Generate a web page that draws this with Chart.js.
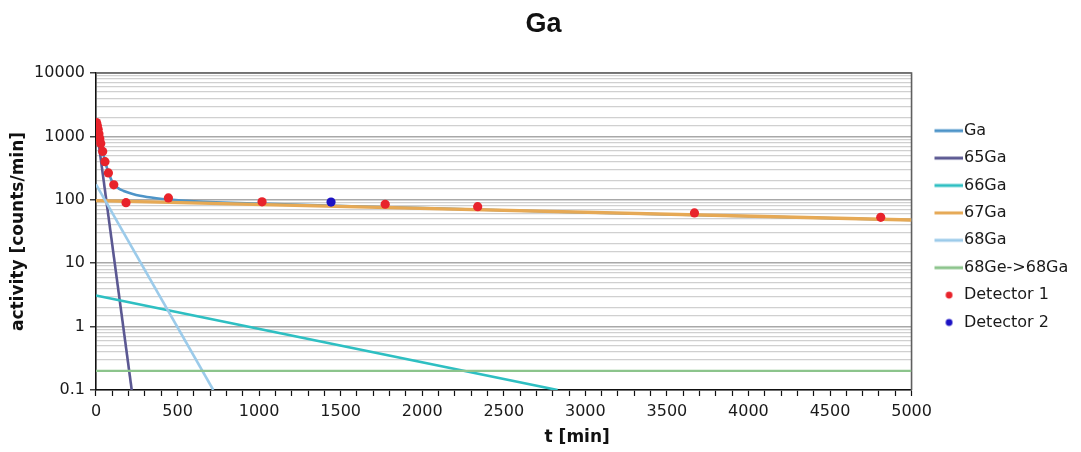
<!DOCTYPE html>
<html>
<head>
<meta charset="utf-8">
<title>Ga</title>
<script src="https://cdn.jsdelivr.net/npm/chart.js@4.4.1/dist/chart.umd.min.js"></script>
<style>
html,body{margin:0;padding:0;background:#fff;}
#wrap{width:1081px;height:452px;}
</style>
</head>
<body>
<div id="wrap"><canvas id="gaChart"></canvas></div>
<script>
// ===========================
// DATA
// ===========================

const seriesNames = ["Ga", "65Ga", "66Ga", "67Ga", "68Ga", "68Ge->68Ga", "Detector 1", "Detector 2"];
const seriesColors = ["#4d94c8", "#5b5892", "#2ebfc2", "#e6a955", "#9ccbea", "#8cc48c", "#e8232b", "#1c12c4"];

// total Ga curve, t [min] / activity
const gaT   = [0, 8, 18, 29, 41, 55, 76, 109, 140, 170, 220, 270, 370, 450, 600, 1000, 2000, 3000, 4000, 5000];
const gaVal = [1900, 1500, 1100, 780, 580, 410, 270, 175, 150, 138, 125, 116, 106, 101, 95, 87, 74, 63, 55, 48];

// single isotopes (straight lines on the log axis)
const ga65T = [0, 219];
const ga65Val = [1600, 0.1];
const ga66T = [0, 2830];
const ga66Val = [3.1, 0.1];
const ga67T = [0, 5000];
const ga67Val = [97, 48];
const ga68T = [0, 719];
const ga68Val = [175, 0.1];
const ge68T = [0, 5000];
const ge68Val = [0.2, 0.2];

// measured points
const det1T   = [3, 8, 13, 18, 23, 29, 41, 55, 76, 109, 184, 444, 1018, 1773, 2340, 3669, 4811];
const det1Val = [1650, 1480, 1300, 1100, 930, 770, 580, 400, 265, 172, 90, 107, 93, 85, 78, 62, 53];
const det2T   = [1441];
const det2Val = [92];

// tick labels
const xTickLabels = [0, 500, 1000, 1500, 2000, 2500, 3000, 3500, 4000, 4500, 5000];
const yTickLabels = [0.1, 1, 10, 100, 1000, 10000];

// ===========================
// HELPERS
// ===========================

const pts = (t, v) => t.map((x, i) => ({x: x, y: v[i]}));

const isDecade = v => yTickLabels.some(d => Math.abs(d - v) < d * 1e-6);

function legendSwatch(color, isDot){
    const c = document.createElement("canvas");
    c.width = 48;
    c.height = 10;
    const g = c.getContext("2d");
    if(isDot){
        g.fillStyle = color;
        g.beginPath();
        g.arc(33.6, 5, 3.4, 0, Math.PI * 2);
        g.fill();
    } else {
        g.strokeStyle = color;
        g.lineWidth = 3;
        g.beginPath();
        g.moveTo(19, 5);
        g.lineTo(48, 5);
        g.stroke();
    }
    return c;
}

const swatches = seriesColors.map((c, i) => legendSwatch(c, i >= 6));

function lineSet(i, data, width, extra){
    return Object.assign({
        label: seriesNames[i],
        data: data,
        showLine: true,
        borderColor: seriesColors[i],
        backgroundColor: seriesColors[i],
        borderWidth: width,
        pointRadius: 0,
        tension: 0,
        order: 7 - i
    }, extra || {});
}

function dotSet(i, data){
    return {
        label: seriesNames[i],
        data: data,
        showLine: false,
        borderColor: seriesColors[i],
        backgroundColor: seriesColors[i],
        pointRadius: 4.6,
        pointBorderWidth: 0,
        order: 7 - i
    };
}

// ===========================
// PLUGINS
// ===========================

// dark frame on top and right of the plot area
const plotFrame = {
    id: "plotFrame",
    beforeDatasetsDraw(chart){
        const {ctx, chartArea: a} = chart;
        ctx.save();
        ctx.strokeStyle = "#5f5f5f";
        ctx.lineWidth = 1.6;
        ctx.beginPath();
        ctx.moveTo(a.left, a.top);
        ctx.lineTo(a.right, a.top);
        ctx.lineTo(a.right, a.bottom);
        ctx.stroke();
        ctx.restore();
    }
};

// x axis title sits right of centre in the original
const xTitle = {
    id: "xTitle",
    afterDraw(chart){
        const {ctx, chartArea: a} = chart;
        ctx.save();
        ctx.font = "bold 17px 'DejaVu Sans'";
        ctx.fillStyle = "#111";
        ctx.textAlign = "center";
        ctx.textBaseline = "middle";
        ctx.fillText("t [min]", a.left + (a.right - a.left) * 0.59, a.bottom + 48);
        ctx.restore();
    }
};

// ===========================
// CHART
// ===========================

const tickFont = {family: "'DejaVu Sans'", size: 16};

new Chart(document.getElementById("gaChart"), {
    type: "scatter",
    data: {
        datasets: [
            lineSet(0, pts(gaT, gaVal), 2.6, {cubicInterpolationMode: "monotone"}),
            lineSet(1, pts(ga65T, ga65Val), 2.6),
            lineSet(2, pts(ga66T, ga66Val), 2.6),
            lineSet(3, pts(ga67T, ga67Val), 3.4),
            lineSet(4, pts(ga68T, ga68Val), 2.6),
            lineSet(5, pts(ge68T, ge68Val), 2.2),
            dotSet(6, pts(det1T, det1Val)),
            dotSet(7, pts(det2T, det2Val))
        ]
    },
    options: {
        responsive: true,
        maintainAspectRatio: false,
        animation: false,
        layout: {
            padding: {left: 8.7, right: 2.7, top: 0, bottom: 24.8}
        },
        scales: {
            x: {
                type: "linear",
                min: 0,
                max: 5000,
                ticks: {
                    stepSize: 100,
                    autoSkip: false,
                    maxRotation: 0,
                    padding: 6,
                    font: tickFont,
                    color: "#1a1a1a",
                    callback: v => xTickLabels.includes(v) ? String(v) : ""
                },
                grid: {
                    drawOnChartArea: false,
                    drawTicks: true,
                    tickLength: 6,
                    tickColor: "#111",
                    tickWidth: 1.2
                },
                border: {color: "#111", width: 1.6}
            },
            y: {
                type: "logarithmic",
                min: 0.1,
                max: 10000,
                ticks: {
                    autoSkip: false,
                    padding: 5,
                    font: tickFont,
                    color: "#1a1a1a",
                    callback: v => isDecade(v) ? (v >= 1 ? String(Math.round(v)) : v.toFixed(1)) : ""
                },
                grid: {
                    color: c => isDecade(c.tick.value) ? "#a8a8a8" : "#d0d0d0",
                    lineWidth: c => isDecade(c.tick.value) ? 1.6 : 1.3,
                    tickColor: c => isDecade(c.tick.value) ? "#111" : "rgba(0,0,0,0)",
                    tickLength: 6,
                    tickWidth: 1.2
                },
                border: {color: "#111", width: 1.6},
                title: {
                    display: true,
                    text: "activity [counts/min]",
                    color: "#111",
                    font: {family: "'DejaVu Sans'", size: 17, weight: "bold"},
                    padding: {top: 0, bottom: 0}
                }
            }
        },
        plugins: {
            title: {
                display: true,
                text: "Ga",
                color: "#111",
                font: {family: "'Liberation Sans Narrow', 'Liberation Sans', Arial, sans-serif", size: 27, weight: "bold"},
                padding: {top: 8, bottom: 32.6}
            },
            legend: {
                position: "right",
                align: "center",
                title: {
                    display: true,
                    text: " ",
                    font: {size: 10},
                    padding: {top: 7, bottom: 7}
                },
                labels: {
                    usePointStyle: true,
                    pointStyleWidth: 33,
                    padding: 11.4,
                    color: "#1a1a1a",
                    font: {family: "'DejaVu Sans'", size: 16},
                    sort: (a, b) => a.datasetIndex - b.datasetIndex,
                    generateLabels(chart){
                        const items = Chart.defaults.plugins.legend.labels.generateLabels(chart);
                        items.forEach(it => { it.pointStyle = swatches[it.datasetIndex]; });
                        return items;
                    }
                }
            },
            tooltip: {enabled: false}
        }
    },
    plugins: [plotFrame, xTitle]
});
</script>
</body>
</html>
